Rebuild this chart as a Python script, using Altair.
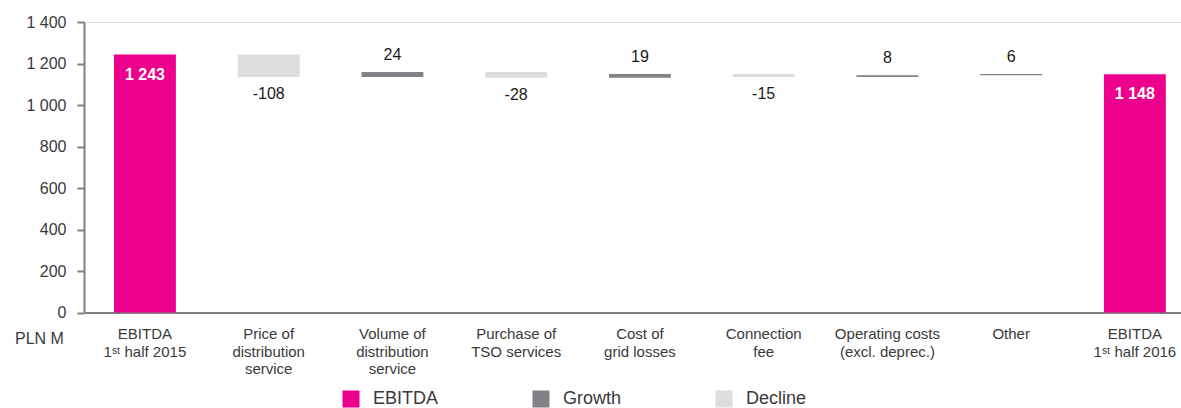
import altair as alt
import pandas as pd

# ---- data ----
categories = [
    "EBITDA|1ˢᵗ half 2015",
    "Price of|distribution|service",
    "Volume of|distribution|service",
    "Purchase of|TSO services",
    "Cost of|grid losses",
    "Connection|fee",
    "Operating costs|(excl. deprec.)",
    "Other",
    "EBITDA|1ˢᵗ half 2016",
]
values = [1243, -108, 24, -28, 19, -15, 8, 6, 1148]
kinds = ["EBITDA", "Decline", "Growth", "Decline", "Growth", "Decline", "Growth", "Growth", "EBITDA"]
legend_order = ["EBITDA", "Growth", "Decline"]
colors = ["#EC008C", "#818285", "#DCDDDE"]
y_ticks = [0, 200, 400, 600, 800, 1000, 1200, 1400]

# ---- waterfall table ----
rows = []
cum = 0
for c, v, k in zip(categories, values, kinds):
    if k == "EBITDA":
        start, end = 0, v
        cum = v
    else:
        start, end = cum, cum + v
        cum = end
    rows.append({"cat": c, "value": v, "kind": k, "start": start, "end": end,
                 "label": f"{v:,}".replace(",", " ")})
df = pd.DataFrame(rows)

FONT = "Liberation Sans"

x_enc = alt.X(
    "cat:N", sort=categories, title=None,
    scale=alt.Scale(paddingInner=0.5, paddingOuter=0.1825, align=0.664),
    axis=alt.Axis(labelAngle=0, labelExpr="split(datum.label, '|')",
                  labelFontSize=15, labelLineHeight=17.5, labelColor="#3a3a3a",
                  labelFont=FONT, labelPadding=14, labelBaseline="top",
                  ticks=False, domainColor="#808080", domainWidth=2),
)
y_scale = alt.Scale(domain=[0, 1400], nice=False)

bars = alt.Chart(df).mark_bar().encode(
    x=x_enc,
    y=alt.Y("start:Q", scale=y_scale,
            axis=alt.Axis(values=y_ticks, grid=False,
                          labelExpr="replace(format(datum.value, ','), ',', ' ')",
                          labelFontSize=16, labelColor="#3a3a3a", labelFont=FONT,
                          labelPadding=11, tickSize=7, tickColor="#808080", tickWidth=2,
                          domainColor="#808080", domainWidth=2,
                          title="PLN M", titleAngle=0, titleX=-45, titleY=316,
                          titleAlign="center", titleBaseline="middle",
                          titleFontSize=16, titleFontWeight="normal",
                          titleColor="#3a3a3a", titleFont=FONT)),
    y2="end:Q",
    color=alt.Color("kind:N", scale=alt.Scale(domain=legend_order, range=colors),
                    legend=alt.Legend(title=None, orient="none", direction="horizontal",
                                      legendX=258, legendY=368,
                                      symbolType="square", symbolSize=289,
                                      symbolStrokeWidth=0, symbolOpacity=1,
                                      labelFontSize=18, labelFont=FONT,
                                      labelColor="#3a3a3a", labelOffset=13,
                                      columnPadding=93)),
)

def text_layer(kind, dy, color, weight):
    return alt.Chart(df).transform_filter(alt.datum.kind == kind).mark_text(
        baseline="middle", align="center", dy=dy, fontSize=16, font=FONT,
        color=color, fontWeight=weight,
    ).encode(x=alt.X("cat:N", sort=categories), y=alt.Y("end:Q", scale=y_scale),
             text="label:N")

chart = alt.layer(
    bars,
    text_layer("EBITDA", 20, "white", "bold"),
    text_layer("Growth", -17, "#1a1a1a", "normal"),
    text_layer("Decline", 17, "#1a1a1a", "normal"),
).properties(
    width=1097, height=290.5,
    autosize=alt.AutoSizeParams(type="none"),
    padding={"left": 84, "top": 22, "right": 0, "bottom": 95.5},
).configure_view(stroke=None).configure(background="white")

chart.save("out.html", embed_options={"renderer": "svg", "actions": False})
